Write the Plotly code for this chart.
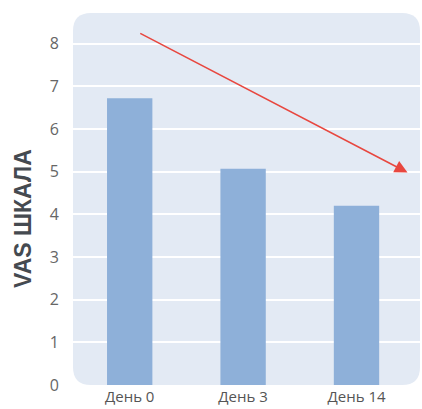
import plotly.graph_objects as go

categories = ["День 0", "День 3", "День 14"]
values = [6.72, 5.07, 4.2]
y_ticks = [0, 1, 2, 3, 4, 5, 6, 7, 8]
y_title = "VAS ШКАЛА"
arrow_start = (0.08, 8.26)
arrow_end = (2.45, 4.98)

W, H = 422, 409
ml, mr, mt, mb = 73, 2, 13, 24
pw, ph = W - ml - mr, H - mt - mb
r = 18
rx, ry = r / pw, r / ph
path = (f"M {rx},0 L {1-rx},0 Q 1,0 1,{ry} L 1,{1-ry} Q 1,1 {1-rx},1 "
        f"L {rx},1 Q 0,1 0,{1-ry} L 0,{ry} Q 0,0 {rx},0 Z")

fig = go.Figure()
fig.add_trace(go.Bar(x=[0, 1, 2], y=values, width=0.4,
                     marker=dict(color="#8eb0d9", line=dict(width=0)),
                     hoverinfo="skip"))

fig.add_shape(type="path", path=path, xref="paper", yref="paper",
              fillcolor="#e3eaf4", line=dict(width=0), layer="below")

fig.add_annotation(x=arrow_end[0], y=arrow_end[1], ax=arrow_start[0], ay=arrow_start[1],
                   xref="x", yref="y", axref="x", ayref="y", text="",
                   showarrow=True, arrowhead=2, arrowsize=1.6, arrowwidth=1.6,
                   arrowcolor="#e8473f")

fig.add_annotation(x=(23 - ml) / pw, y=(ph + mt - 219) / ph, xref="paper", yref="paper",
                   text=f"<b>{y_title}</b>", textangle=-90, showarrow=False,
                   xanchor="center", yanchor="middle",
                   font=dict(size=23, color="#454a50", family="Liberation Sans"))

fig.update_layout(
    width=W, height=H,
    margin=dict(l=ml, r=mr, t=mt, b=mb, autoexpand=False),
    paper_bgcolor="white", plot_bgcolor="rgba(0,0,0,0)",
    showlegend=False,
    font=dict(family="Open Sans", color="#666666"),
    bargap=0.6,
)
fig.update_xaxes(range=[-0.5, 2.56], tickvals=[0, 1, 2], ticktext=categories,
                 showgrid=False, zeroline=False, showline=False, automargin=False,
                 tickfont=dict(size=15, color="#555555"), ticklabelstandoff=1)
fig.update_yaxes(range=[0, 8.72], tickvals=y_ticks, showgrid=True, automargin=False,
                 gridcolor="white", gridwidth=2, zeroline=False, showline=False,
                 tickfont=dict(size=16, color="#666666"), ticklabelstandoff=13)

fig.write_html("out.html", config={"displayModeBar": False},
               post_script="document.body.style.margin='0';")
